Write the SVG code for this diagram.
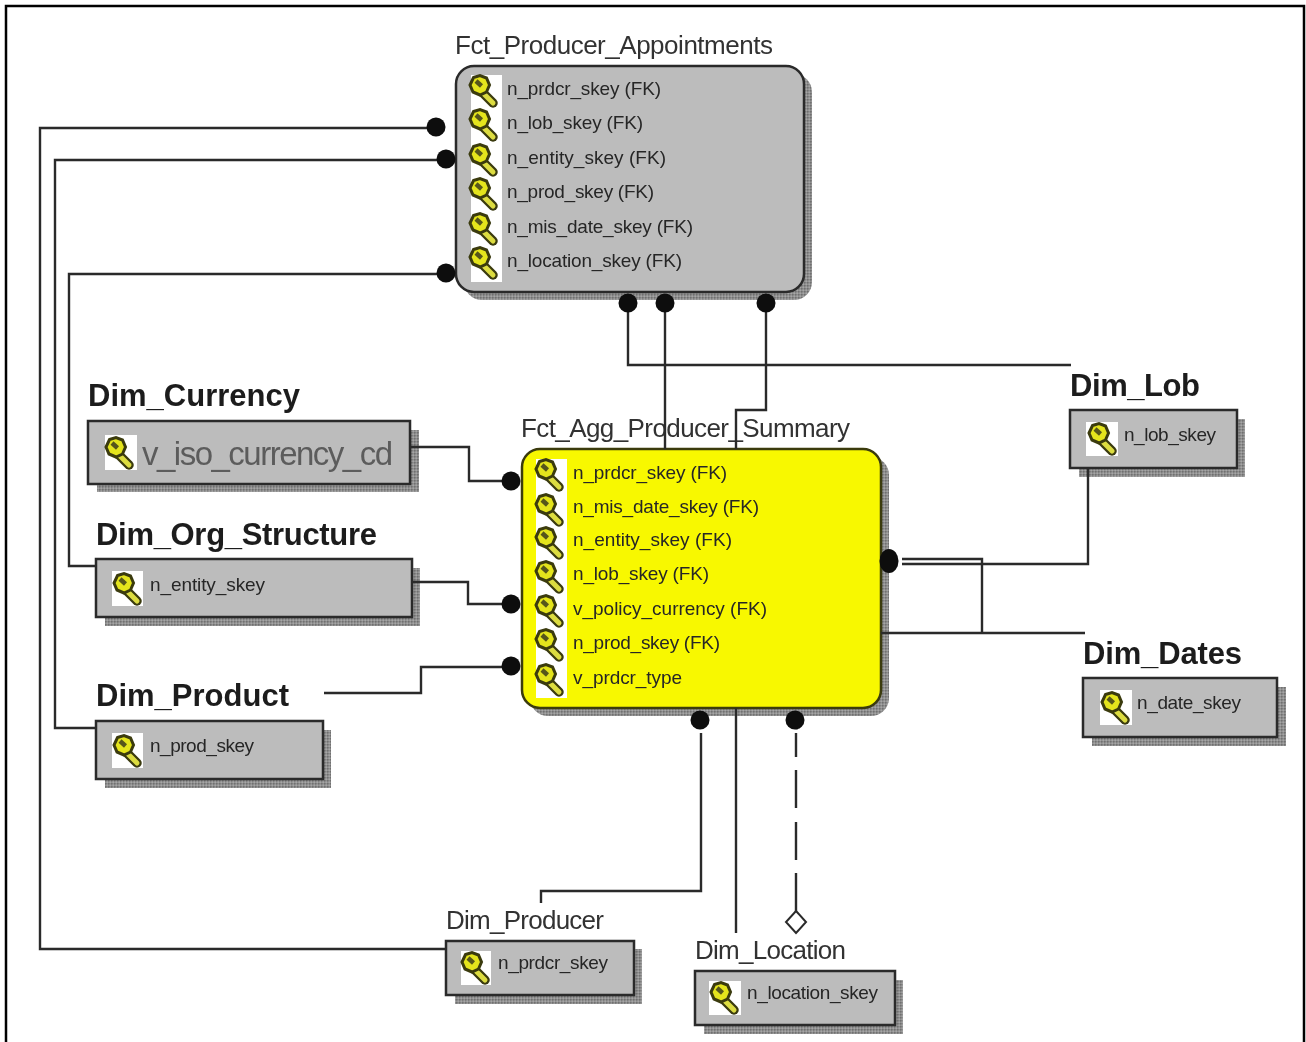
<svg xmlns="http://www.w3.org/2000/svg" width="1306" height="1042" viewBox="0 0 1306 1042">
<style>
text{font-family:"Liberation Sans",Arial,sans-serif}
.box{fill:#bcbcbc;stroke:#2a2a2a;stroke-width:2.5}
.agg{fill:#f8f800;stroke:#3a3a10;stroke-width:2.5}
.shadow{fill:url(#dither)}
.col{fill:#fff}
.f{font-size:19px;fill:#262626}
.h{font-size:26px;fill:#333}
.b{font-size:31px;font-weight:bold;fill:#1c1c1c}
.big{font-size:33px;fill:#5c5c5c}
.c{fill:none;stroke:#2b2b2b;stroke-width:2.4}
.dot{fill:#0c0c0c}
</style>
<defs>
<filter id="soft" x="0" y="0" width="1306" height="1042" filterUnits="userSpaceOnUse"><feGaussianBlur stdDeviation="0.45"/></filter>
<pattern id="dither" width="3" height="3" patternUnits="userSpaceOnUse"><rect width="3" height="3" fill="#8e8e8e"/><rect width="1.5" height="1.5" fill="#6f6f6f"/><rect x="1.5" y="1.5" width="1.5" height="1.5" fill="#a6a6a6"/></pattern>
<g id="key">
<path d="M-3-2L9 10" stroke="#3a3a10" stroke-width="9.500" stroke-linecap="round"/>
<path d="M-3-2L9 10" stroke="#dcdc40" stroke-width="5" stroke-linecap="round"/>
<path d="M-10.500-15.500L-4-17.500L2.500-15L5.500-8L2.500-1L-4 2L-11-1L-14-8Z" fill="#e4e41c" stroke="#3a3a10" stroke-width="3"/>
<path d="M-8-12L-2.500-7" stroke="#55551a" stroke-width="4.500"/>
</g>
</defs>
<rect width="1306" height="1042" fill="#fff"/>
<path d="M6 1042V6H1304V1042" fill="none" stroke="#000" stroke-width="2.500"/>

<g filter="url(#soft)">
<g id="fct-producer-appointments">
<rect class="shadow" x="464" y="74" width="348" height="226" rx="18"/>
<rect class="box" x="456" y="66" width="348" height="226" rx="18"/>
<rect class="col" x="471" y="75" width="31" height="207"/>
<text class="h" x="455" y="54" textLength="318">Fct_Producer_Appointments</text>
<use href="#key" x="484" y="93"/><text class="f" x="507" y="95" textLength="154">n_prdcr_skey (FK)</text>
<use href="#key" x="484" y="127"/><text class="f" x="507" y="129" textLength="136">n_lob_skey (FK)</text>
<use href="#key" x="484" y="162"/><text class="f" x="507" y="164" textLength="159">n_entity_skey (FK)</text>
<use href="#key" x="484" y="196"/><text class="f" x="507" y="198" textLength="147">n_prod_skey (FK)</text>
<use href="#key" x="484" y="231"/><text class="f" x="507" y="233" textLength="186">n_mis_date_skey (FK)</text>
<use href="#key" x="484" y="265"/><text class="f" x="507" y="267" textLength="175">n_location_skey (FK)</text>
</g>

<g id="fct-agg-producer-summary">
<rect class="shadow" x="530" y="457" width="359" height="259" rx="18"/>
<rect class="agg" x="522" y="449" width="359" height="259" rx="18"/>
<rect class="col" x="536" y="459" width="31" height="239"/>
<text class="h" x="521" y="437" textLength="329">Fct_Agg_Producer_Summary</text>
<use href="#key" x="550" y="477"/><text class="f" x="573" y="479" textLength="154">n_prdcr_skey (FK)</text>
<use href="#key" x="550" y="512"/><text class="f" x="573" y="513" textLength="186">n_mis_date_skey (FK)</text>
<use href="#key" x="550" y="545"/><text class="f" x="573" y="546" textLength="159">n_entity_skey (FK)</text>
<use href="#key" x="550" y="579"/><text class="f" x="573" y="580" textLength="136">n_lob_skey (FK)</text>
<use href="#key" x="550" y="613"/><text class="f" x="573" y="615" textLength="194">v_policy_currency (FK)</text>
<use href="#key" x="550" y="647"/><text class="f" x="573" y="649" textLength="147">n_prod_skey (FK)</text>
<use href="#key" x="550" y="682"/><text class="f" x="573" y="684" textLength="109">v_prdcr_type</text>
</g>

<g id="dim-currency">
<rect class="shadow" x="97" y="430" width="322" height="62"/>
<rect class="box" x="88" y="421" width="322" height="63"/>
<rect class="col" x="105" y="435" width="32" height="35"/>
<text class="b" x="88" y="406" textLength="212">Dim_Currency</text>
<use href="#key" x="120" y="455"/><text class="big" x="142" y="465" textLength="251">v_iso_currency_cd</text>
</g>

<g id="dim-org-structure">
<rect class="shadow" x="105" y="568" width="315" height="58"/>
<rect class="box" x="96" y="559" width="316" height="58"/>
<rect class="col" x="112" y="571" width="31" height="35"/>
<text class="b" x="96" y="545" textLength="281">Dim_Org_Structure</text>
<use href="#key" x="128" y="591"/><text class="f" x="150" y="591" textLength="115">n_entity_skey</text>
</g>

<g id="dim-product">
<rect class="shadow" x="105" y="730" width="226" height="58"/>
<rect class="box" x="96" y="721" width="227" height="58"/>
<rect class="col" x="112" y="733" width="31" height="35"/>
<text class="b" x="96" y="706" textLength="193">Dim_Product</text>
<use href="#key" x="128" y="753"/><text class="f" x="150" y="752" textLength="104">n_prod_skey</text>
</g>

<g id="dim-lob">
<rect class="shadow" x="1079" y="419" width="166" height="58"/>
<rect class="box" x="1070" y="410" width="167" height="58"/>
<rect class="col" x="1086" y="422" width="32" height="34"/>
<text class="b" x="1070" y="396" textLength="130">Dim_Lob</text>
<use href="#key" x="1103" y="441"/><text class="f" x="1124" y="441" textLength="92">n_lob_skey</text>
</g>

<g id="dim-dates">
<rect class="shadow" x="1092" y="687" width="194" height="59"/>
<rect class="box" x="1083" y="678" width="194" height="59"/>
<rect class="col" x="1100" y="690" width="32" height="35"/>
<text class="b" x="1083" y="664" textLength="159">Dim_Dates</text>
<use href="#key" x="1116" y="710"/><text class="f" x="1137" y="709" textLength="104">n_date_skey</text>
</g>

<g id="dim-producer">
<rect class="shadow" x="455" y="949" width="187" height="55"/>
<rect class="box" x="446" y="941" width="188" height="54"/>
<rect class="col" x="461" y="951" width="30" height="34"/>
<text class="h" x="446" y="929" textLength="158">Dim_Producer</text>
<use href="#key" x="476" y="970"/><text class="f" x="498" y="969" textLength="110">n_prdcr_skey</text>
</g>

<g id="dim-location">
<rect class="shadow" x="704" y="980" width="199" height="54"/>
<rect class="box" x="695" y="971" width="200" height="54"/>
<rect class="col" x="709" y="981" width="32" height="34"/>
<text class="h" x="695" y="959" textLength="151">Dim_Location</text>
<use href="#key" x="725" y="1000"/><text class="f" x="747" y="999" textLength="131">n_location_skey</text>
</g>

<g id="connectors">
<path class="c" d="M436 128H40V949H446"/>
<path class="c" d="M446 160H55V728H96"/>
<path class="c" d="M446 274H69V566H96"/>
<path class="c" d="M628 303V365H1071"/>
<path class="c" d="M665 303V449"/>
<path class="c" d="M766 303V410H736V449"/>
<path class="c" d="M411 447H469V481H511"/>
<path class="c" d="M413 582H468V604H511"/>
<path class="c" d="M324 693H421V667H511"/>
<path class="c" d="M902 559H982V633"/>
<path class="c" d="M902 564H1088V468"/>
<path class="c" d="M881 633H1085"/>
<path class="c" d="M701 733V891H541V903"/>
<path class="c" d="M736 708V933"/>
<path class="c" d="M796 733V757M796 770V808M796 822V860M796 873V912"/>
<path d="M796 911L806 922L796 933L786 922Z" fill="#fff" stroke="#2b2b2b" stroke-width="2"/>
<circle class="dot" cx="436" cy="127" r="9.500"/>
<circle class="dot" cx="446" cy="159" r="9.500"/>
<circle class="dot" cx="446" cy="273" r="9.500"/>
<circle class="dot" cx="628" cy="303" r="9.500"/>
<circle class="dot" cx="665" cy="303" r="9.500"/>
<circle class="dot" cx="766" cy="303" r="9.500"/>
<circle class="dot" cx="511" cy="481" r="9.500"/>
<circle class="dot" cx="511" cy="604" r="9.500"/>
<circle class="dot" cx="511" cy="666" r="9.500"/>
<ellipse class="dot" cx="889" cy="561" rx="9.500" ry="12"/>
<circle class="dot" cx="700" cy="720" r="9.500"/>
<circle class="dot" cx="795" cy="720" r="9.500"/>
</g>
</g>
</svg>
